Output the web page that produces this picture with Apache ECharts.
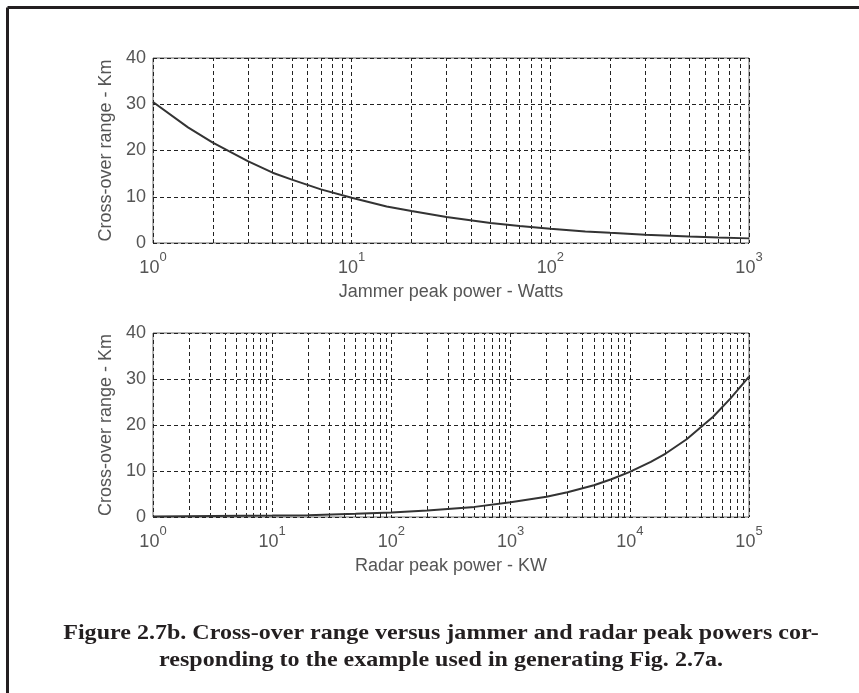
<!DOCTYPE html>
<html>
<head>
<meta charset="utf-8">
<script src="https://cdn.jsdelivr.net/npm/echarts@6/dist/echarts.min.js"></script>
<style>
html,body{margin:0;padding:0;background:#fff;}
#chart{width:859px;height:693px;}
</style>
</head>
<body>
<div id="chart"></div>
<script>
// Top panel: cross-over range vs jammer peak power (Watts)
var jammerPower = [1, 1.5, 2, 3, 4, 5, 7, 10, 15, 20, 30, 50, 70, 100, 150, 200, 300, 500, 700, 1000];
var jammerRange = [30.5, 25.0, 21.7, 17.7, 15.2, 13.7, 11.6, 9.8, 7.9, 6.9, 5.6, 4.3, 3.7, 3.1, 2.5, 2.2, 1.8, 1.4, 1.2, 1.0];

// Bottom panel: cross-over range vs radar peak power (KW)
var radarPower = [1, 10, 20, 50, 100, 200, 500, 1000, 2000, 3000, 5000, 7000, 10000, 15000, 20000, 30000, 50000, 70000, 100000];
var radarRange = [0.1, 0.3, 0.4, 0.7, 1.0, 1.4, 2.2, 3.2, 4.4, 5.4, 6.9, 8.2, 9.8, 12.0, 13.8, 16.9, 21.8, 25.8, 30.5];

// Minor grid positions (2..9 of each decade)
var jammerMinor = [2,3,4,5,6,7,8,9,20,30,40,50,60,70,80,90,200,300,400,500,600,700,800,900];
var radarMinor = [];
[1,10,100,1000,10000].forEach(function(d){ for (var k=2;k<=9;k++) radarMinor.push(d*k); });

var yTicks = {min: 0, max: 40, interval: 10};
var topXName = 'Jammer peak power - Watts';
var bottomXName = 'Radar peak power - KW';
var yName = 'Cross-over range - Km';
var captionLines = ['Figure 2.7b. Cross-over range versus jammer and radar peak powers cor-', 'responding to the example used in generating Fig. 2.7a.'];

var textColor = '#555';
var fontFam = '"Liberation Sans", Arial, sans-serif';
var gridDash = {color: '#222', width: 1, type: [4, 3]};

function xAxisCfg(idx, min, max, name) {
  return {
    type: 'log', logBase: 10, gridIndex: idx, min: min, max: max,
    name: name, nameLocation: 'middle', nameGap: 40,
    nameTextStyle: {color: textColor, fontSize: 18, fontFamily: fontFam},
    axisLine: {show: false}, axisTick: {show: false},
    axisLabel: {
      margin: 8,
      formatter: function (v) { return '{b|10}{s|' + Math.round(Math.log10(v)) + '}'; },
      rich: {
        b: {fontSize: 18, color: textColor, fontFamily: fontFam},
        s: {fontSize: 13, color: textColor, fontFamily: fontFam, padding: [0, 0, 22, 0]}
      }
    },
    splitLine: {show: true, lineStyle: gridDash}
  };
}
function yAxisCfg(idx) {
  return {
    type: 'value', gridIndex: idx, min: yTicks.min, max: yTicks.max, interval: yTicks.interval,
    name: yName, nameLocation: 'middle', nameGap: 37, nameRotate: 90,
    nameTextStyle: {color: textColor, fontSize: 18, fontFamily: fontFam},
    axisLine: {show: false}, axisTick: {show: false},
    axisLabel: {color: textColor, fontSize: 18, fontFamily: fontFam, margin: 7},
    splitLine: {show: true, lineStyle: gridDash}
  };
}
function minorLines(arr) {
  return {
    silent: true, symbol: 'none', label: {show: false},
    lineStyle: {color: '#222', width: 1, type: [4, 3]},
    animation: false,
    data: arr.map(function (v) { return {xAxis: v}; })
  };
}

var chart = echarts.init(document.getElementById('chart'), null, {renderer: 'canvas'});
chart.setOption({
  animation: false,
  backgroundColor: '#fff',
  grid: [
    {left: 153, top: 58, width: 596, height: 185, show: true, borderColor: '#666', borderWidth: 1, backgroundColor: 'transparent'},
    {left: 153, top: 333, width: 596, height: 184, show: true, borderColor: '#666', borderWidth: 1, backgroundColor: 'transparent'}
  ],
  xAxis: [xAxisCfg(0, 1, 1000, topXName), xAxisCfg(1, 1, 100000, bottomXName)],
  yAxis: [yAxisCfg(0), yAxisCfg(1)],
  series: [
    {type: 'line', xAxisIndex: 0, yAxisIndex: 0, showSymbol: false, symbol: 'none',
     data: jammerPower.map(function (p, i) { return [p, jammerRange[i]]; }),
     lineStyle: {color: '#333', width: 2}, markLine: minorLines(jammerMinor), z: 5},
    {type: 'line', xAxisIndex: 1, yAxisIndex: 1, showSymbol: false, symbol: 'none',
     data: radarPower.map(function (p, i) { return [p, radarRange[i]]; }),
     lineStyle: {color: '#333', width: 2}, markLine: minorLines(radarMinor), z: 5}
  ],
  graphic: [
    {type: 'line', shape: {x1: 7.5, y1: 7.5, x2: 870, y2: 7.5}, style: {stroke: '#231f20', lineWidth: 3}},
    {type: 'line', shape: {x1: 7.5, y1: 7.5, x2: 7.5, y2: 700}, style: {stroke: '#231f20', lineWidth: 3}},
    {type: 'text', x: 441, y: 647, scaleX: 1.145, style: {
      text: captionLines.join('\n'), align: 'center', verticalAlign: 'middle',
      font: 'bold 21px "Liberation Serif", "Times New Roman", serif', lineHeight: 27, fill: '#231f20'
    }}
  ]
});
</script>
</body>
</html>
